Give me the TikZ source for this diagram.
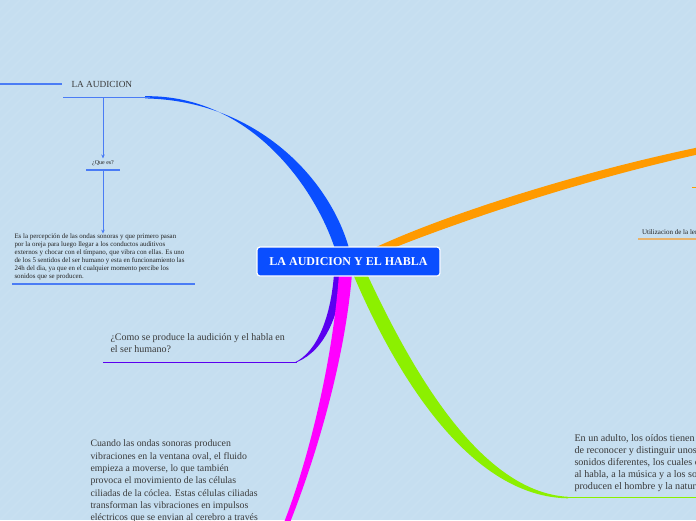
\documentclass[tikz,border=0pt]{standalone}
\usepackage{fontspec}
\setmainfont{Liberation Serif}
\usetikzlibrary{arrows.meta,calc}
\definecolor{bg}{HTML}{C5DEF0}
\definecolor{txt}{HTML}{3A3A3A}
\definecolor{dtxt}{HTML}{222222}
\definecolor{bblue}{HTML}{0A4EFF}
\definecolor{lblue}{HTML}{4A7CF5}
\definecolor{orng}{HTML}{FF9A00}
\definecolor{lorng}{HTML}{E9B26A}
\definecolor{purp}{HTML}{5A00F0}
\definecolor{mag}{HTML}{FF00FF}
\definecolor{grn}{HTML}{8CF000}
\tikzset{
  lbl/.style={inner sep=0pt, outer sep=0pt, text=txt, align=left},
  uline/.style={line width=1.5pt},
  arr/.style={lblue, line width=0.9pt, -{Stealth[length=4pt,width=3.5pt]}},
  central/.style={draw=white, line width=1.2pt, fill=bblue, rounded corners=3pt,
    minimum width=183pt, minimum height=29pt, text=white,
    font=\bfseries\fontsize{12}{14}\selectfont}
}
\begin{document}
\begin{tikzpicture}[x=1pt,y=-1pt]
\useasboundingbox (0,0) rectangle (696,520);
\fill[bg] (0,0) rectangle (696,520);
\clip (0,0) rectangle (696,520);
\foreach \i in {-520,-510,...,700} \draw[white,opacity=0.07,line width=1.5pt] (\i,520) -- (\i+520,0);

% ---------- branches (under the central node) ----------
% blue
\fill[bblue] (145,96.2) .. controls (248,94.5) and (315,185) .. (336,252)
  -- (350,252) .. controls (332,181) and (258,100.5) .. (145,98.4) -- cycle;
% orange
\fill[orng] (362,254) .. controls (420,224) and (560,176) .. (700,147)
  -- (700,154) .. controls (560,185) and (425,234) .. (374,256) -- cycle;
% purple
\fill[purp] (334,274) .. controls (331,315) and (318,352) .. (294,362.8)
  -- (297,362) .. controls (326,350) and (340,312) .. (343,274) -- cycle;
% magenta
\fill[mag] (339,274) .. controls (332,370) and (305,470) .. (283,525)
  -- (289,525) .. controls (311,470) and (344,370) .. (352,274) -- cycle;
% green
\fill[grn] (353,274) .. controls (398,380) and (472,497) .. (568,498.3)
  -- (568,496.8) .. controls (482,492) and (414,375) .. (367,274) -- cycle;

% ---------- central node ----------
\node[central] (c) at (348.5,261.5) {LA AUDICION Y EL HABLA};

% ---------- LA AUDICION branch ----------
\coordinate (par) at (0,84);
\coordinate (lae) at (62,84);
\draw[lblue, line width=1.2pt] (par) -- (lae);
\node[lbl, anchor=base west, font=\fontsize{9.3}{11}\selectfont] (la) at (71.5,87.8) {LA AUDICION};
\coordinate (la1) at (63,97.3);
\coordinate (la2) at (150,97.3);
\draw[lblue, uline] (la1) -- (la2);
\coordinate (lad) at (103,97.3);
\node[lbl, text=dtxt, font=\fontsize{6}{7}\selectfont] (que) at (103,163) {¿Que es?};
\coordinate (q1) at (86,170);
\coordinate (q2) at (120,170);
\draw[lblue, uline] (q1) -- (q2);
\draw[arr] (lad) -- (103,158.5);
\coordinate (qd) at (103,170);
\node[lbl, text=dtxt, anchor=north west, font=\fontsize{6.9}{8}\selectfont] (def) at (14.5,233.6)
 {Es la percepción de las ondas sonoras y que primero pasan\\
  por la oreja para luego llegar a los conductos auditivos\\
  externos y chocar con el tímpano, que vibra con ellas. Es uno\\
  de los 5 sentidos del ser humano y esta en funcionamiento las\\
  24h del dia, ya que en el cualquier momento percibe los\\
  sonidos que se producen.};
\draw[arr] (qd) -- (def.north -| qd);
\coordinate (d1) at (12,284);
\coordinate (d2) at (195,284);
\draw[lblue, uline] (d1) -- (d2);

% ---------- purple ----------
\node[lbl, anchor=north west, font=\fontsize{10}{11.3}\selectfont] (como) at (110.5,334)
 {¿Como se produce la audición y el habla en\\ el ser humano?};
\coordinate (p1) at (103,362.3);
\coordinate (p2) at (297,362.3);
\draw[purp, uline] (p1) -- (p2);

% ---------- magenta text ----------
\node[lbl, anchor=north west, font=\fontsize{9.8}{12.3}\selectfont] (cuando) at (90.5,440)
 {Cuando las ondas sonoras producen\\
  vibraciones en la ventana oval, el fluido\\
  empieza a moverse, lo que también\\
  provoca el movimiento de las células\\
  ciliadas de la cóclea. Estas células ciliadas\\
  transforman las vibraciones en impulsos\\
  eléctricos que se envian al cerebro a través\\
  del nervio auditivo.};

% ---------- green ----------
\node[lbl, anchor=north west, font=\fontsize{10.1}{12.2}\selectfont] (adulto) at (574.5,434)
 {En un adulto, los oídos tienen la capacidad\\
  de reconocer y distinguir unos 400.000\\
  sonidos diferentes, los cuales corresponden\\
  al habla, a la música y a los sonidos que\\
  producen el hombre y la naturaleza.};
\coordinate (g1) at (566,497.5);
\coordinate (g2) at (696,497.5);
\draw[grn, uline] (g1) -- (g2);

% ---------- orange ----------
\node[lbl, text=dtxt, anchor=base west, font=\fontsize{7}{8}\selectfont] (util) at (642,234.5) {Utilizacion de la lengua};
\coordinate (u1) at (638,239);
\coordinate (u2) at (696,239);
\draw[lorng, uline] (u1) -- (u2);
\coordinate (t1) at (692,187.5);
\coordinate (t2) at (696,187.5);
\draw[orng, line width=1.5pt] (t1) -- (t2);
\end{tikzpicture}
\end{document}
